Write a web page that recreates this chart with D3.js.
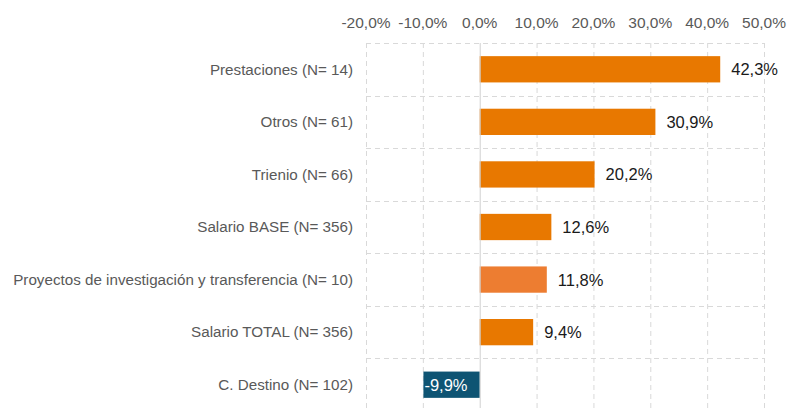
<!DOCTYPE html>
<html>
<head>
<meta charset="utf-8">
<script src="https://cdn.jsdelivr.net/npm/d3@7"></script>
<style>
	body { margin: 0; background: #fff; }
	svg { display: block; font-family: 'Liberation Sans', Arial, sans-serif; }
</style>
</head>
<body>
<svg id="chart" width="790" height="408"></svg>
<script>
var categories = [
	'Prestaciones (N= 14)',
	'Otros (N= 61)',
	'Trienio (N= 66)',
	'Salario BASE (N= 356)',
	'Proyectos de investigación y transferencia (N= 10)',
	'Salario TOTAL (N= 356)',
	'C. Destino (N= 102)'
];
var values = [42.3, 30.9, 20.2, 12.6, 11.8, 9.4, -9.9];
var barColors = ['#e87800', '#e87800', '#e87800', '#e87800', '#ed7d31', '#e87800', '#0e5473'];
var tickValues = [-20, -10, 0, 10, 20, 30, 40, 50];

var fmt = function(v) {
	return v.toFixed(1).replace('.', ',') + '%';
};

var svg = d3.select('#chart');

var x = d3.scaleLinear().domain([-20, 50]).range([366, 764]);
var y = d3.scaleBand()
	.domain(categories)
	.range([43, 411])
	.paddingInner(0.5)
	.paddingOuter(0.25);

// grid
var grid = svg.append('g').attr('class', 'grid');
grid.selectAll('.vgrid')
	.data(tickValues.filter(function(d) { return d !== 0; }))
	.enter()
	.append('line')
	.attr('x1', function(d) { return x(d) + 0.5; })
	.attr('x2', function(d) { return x(d) + 0.5; })
	.attr('y1', y.range()[0])
	.attr('y2', y.range()[1])
	.attr('stroke', '#d9d9d9')
	.attr('stroke-dasharray', '5,4');

var bounds = d3.range(categories.length + 1).map(function(i) {
	return y.range()[0] + i * y.step();
});
grid.selectAll('.hgrid')
	.data(bounds)
	.enter()
	.append('line')
	.attr('x1', x(-20))
	.attr('x2', x(50))
	.attr('y1', function(d) { return Math.round(d) + 0.5; })
	.attr('y2', function(d) { return Math.round(d) + 0.5; })
	.attr('stroke', '#d9d9d9')
	.attr('stroke-dasharray', '5,4');

// top axis labels
svg.append('g')
	.selectAll('text')
	.data(tickValues)
	.enter()
	.append('text')
	.attr('x', function(d) { return x(d); })
	.attr('y', 28)
	.attr('text-anchor', 'middle')
	.attr('font-size', '15.5px')
	.attr('fill', '#595959')
	.text(function(d) { return fmt(d); });

// bars
svg.append('g')
	.selectAll('rect')
	.data(values)
	.enter()
	.append('rect')
	.attr('x', function(d) { return x(Math.min(0, d)); })
	.attr('y', function(d, i) { return y(categories[i]); })
	.attr('width', function(d) { return Math.abs(x(d) - x(0)); })
	.attr('height', y.bandwidth())
	.attr('fill', function(d, i) { return barColors[i]; });

// zero line
svg.append('line')
	.attr('x1', x(0) + 0.5)
	.attr('x2', x(0) + 0.5)
	.attr('y1', y.range()[0])
	.attr('y2', y.range()[1])
	.attr('stroke', '#d0d0d0');

// category labels
svg.append('g')
	.selectAll('text')
	.data(categories)
	.enter()
	.append('text')
	.attr('x', 353)
	.attr('y', function(d) { return y(d) + y.bandwidth() / 2; })
	.attr('dy', '0.35em')
	.attr('text-anchor', 'end')
	.attr('font-size', '15.2px')
	.attr('fill', '#595959')
	.text(function(d) { return d; });

// value labels
svg.append('g')
	.selectAll('text')
	.data(values)
	.enter()
	.append('text')
	.attr('x', function(d) { return d >= 0 ? x(d) + 11 : x(d) + 1; })
	.attr('y', function(d, i) { return y(categories[i]) + y.bandwidth() / 2; })
	.attr('dy', '0.36em')
	.attr('font-size', '16.5px')
	.attr('fill', function(d) { return d >= 0 ? '#1a1a1a' : '#ffffff'; })
	.text(function(d) { return fmt(d); });
</script>
</body>
</html>
